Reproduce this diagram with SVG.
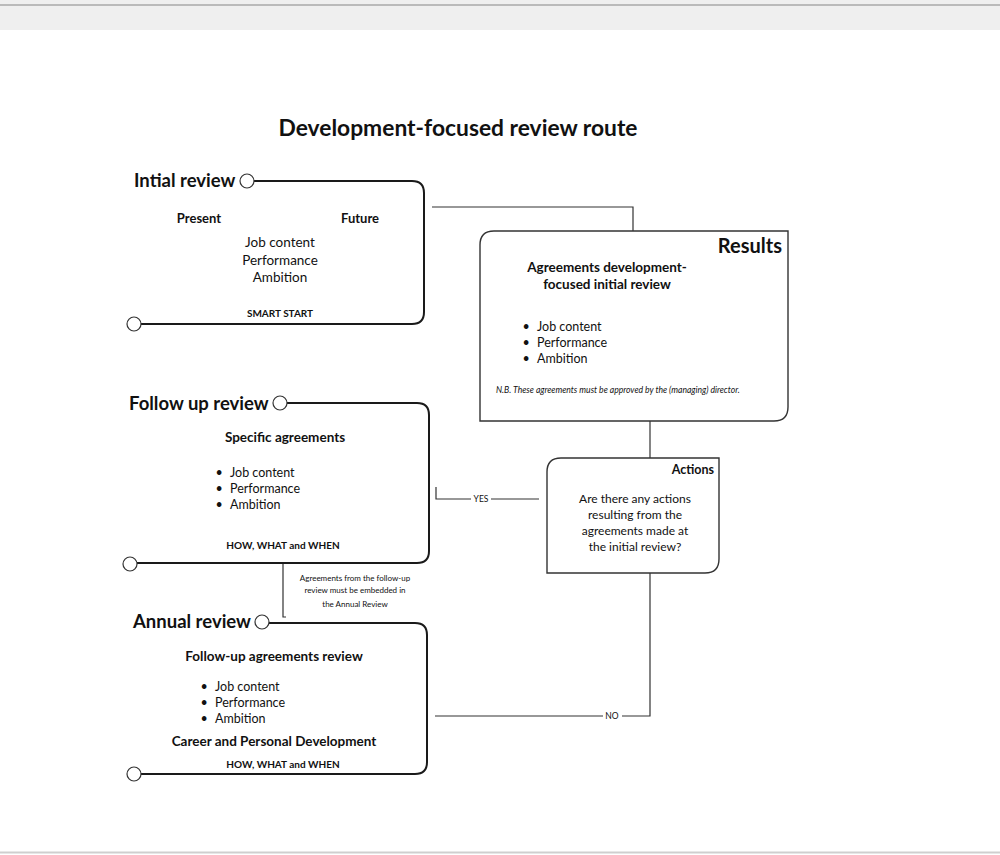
<svg xmlns="http://www.w3.org/2000/svg" width="1000" height="855" viewBox="0 0 1000 855">
<style>
text{font-family:Lato,"Open Sans","Liberation Sans",sans-serif;fill:#111}
.b{font-weight:bold}
.hd{font-size:18.5px;font-weight:bold}
.sub{font-size:13.5px;font-weight:bold}
.it{font-size:12.5px}
.sm{font-size:10px;font-weight:bold}
.tiny{font-size:8px}
.track{fill:none;stroke:#1a1a1a;stroke-width:2}
.box{fill:#fff;stroke:#333;stroke-width:1.4}
.dot{fill:#fff;stroke:#333;stroke-width:1.2}
.con{fill:none;stroke:#333;stroke-width:1.2}
.c{text-anchor:middle}
</style>
<rect x="0" y="0" width="1000" height="855" fill="#fff"/>
<rect x="0" y="0" width="1000" height="30" fill="#efefef"/>
<line x1="0" y1="5" x2="1000" y2="5" stroke="#a9a9a9" stroke-width="1.5"/>
<line x1="0" y1="852.5" x2="1000" y2="852.5" stroke="#cfcfcf" stroke-width="2"/>

<text x="458" y="136" class="c b" font-size="22.8">Development-focused review route</text>

<g id="connectors">
<polyline class="con" points="432,207 633,207 633,231"/>
<line class="con" x1="650" y1="421" x2="650" y2="458"/>
<polyline class="con" points="436,487 436,499 539,499"/>
<rect x="471" y="494" width="20" height="10" fill="#fff"/>
<text x="481" y="502" class="c" font-size="8.5">YES</text>
<polyline class="con" points="650,573 650,716 435,716"/>
<rect x="603" y="711" width="19" height="10" fill="#fff"/>
<text x="612" y="719" class="c" font-size="8.5">NO</text>
<polyline class="con" points="283,563 283,617 286,617"/>
<text x="355" y="581" class="c tiny">Agreements from the follow-up</text>
<text x="355" y="593" class="c tiny">review must be embedded in</text>
<text x="355" y="607" class="c tiny">the Annual Review</text>
</g>

<g id="initial-review">
<path class="track" d="M254,181 H412 Q424,181 424,193 V312 Q424,324 412,324 H141"/>
<circle class="dot" cx="247" cy="181" r="7"/>
<circle class="dot" cx="134" cy="324" r="7"/>
<text x="134" y="187" class="hd">Intial review</text>
<text x="199" y="223" class="c b" font-size="13">Present</text>
<text x="360" y="223" class="c b" font-size="13">Future</text>
<text x="280" y="247" class="c" font-size="13.5">Job content</text>
<text x="280" y="264.5" class="c" font-size="13.5">Performance</text>
<text x="280" y="282" class="c" font-size="13.5">Ambition</text>
<text x="280" y="317" class="c sm">SMART START</text>
</g>

<g id="results">
<path class="box" d="M494,231 H788 V407 Q788,421 774,421 H480 V245 Q480,231 494,231 Z"/>
<text x="782" y="253" class="b" font-size="20" text-anchor="end">Results</text>
<text x="607" y="272" class="c sub">Agreements development-</text>
<text x="607" y="289" class="c sub">focused initial review</text>
<text x="526" y="331" class="c it">•</text><text x="537" y="331" class="it">Job content</text>
<text x="526" y="347" class="c it">•</text><text x="537" y="347" class="it">Performance</text>
<text x="526" y="363" class="c it">•</text><text x="537" y="363" class="it">Ambition</text>
<text x="496" y="393" class="tiny" font-size="8.5" font-style="italic" style="font-size:8.6px">N.B.  These agreements must be approved by the (managing) director.</text>
</g>

<g id="actions">
<path class="box" d="M561,458 H719 V559 Q719,573 705,573 H547 V472 Q547,458 561,458 Z"/>
<text x="714" y="474" class="b" font-size="12.5" text-anchor="end">Actions</text>
<text x="635" y="503" class="c" font-size="12">Are there any actions</text>
<text x="635" y="519" class="c" font-size="12">resulting from the</text>
<text x="635" y="535" class="c" font-size="12">agreements made at</text>
<text x="635" y="551" class="c" font-size="12">the initial review?</text>
</g>

<g id="follow-up-review">
<path class="track" d="M287,403 H417 Q429,403 429,415 V551 Q429,563 417,563 H137"/>
<circle class="dot" cx="280" cy="403" r="7"/>
<circle class="dot" cx="130" cy="564" r="7"/>
<text x="129" y="410" class="hd">Follow up review</text>
<text x="285" y="442" class="c sub">Specific agreements</text>
<text x="219" y="477" class="c it">•</text><text x="230" y="477" class="it">Job content</text>
<text x="219" y="493" class="c it">•</text><text x="230" y="493" class="it">Performance</text>
<text x="219" y="509" class="c it">•</text><text x="230" y="509" class="it">Ambition</text>
<text x="283" y="549" class="c sm">HOW, WHAT and WHEN</text>
</g>

<g id="annual-review">
<path class="track" d="M269,623 H415 Q427,623 427,635 V762 Q427,774 415,774 H141"/>
<circle class="dot" cx="262" cy="622" r="7"/>
<circle class="dot" cx="134" cy="774" r="7"/>
<text x="133" y="628" class="hd">Annual review</text>
<text x="274" y="661" class="c sub">Follow-up agreements review</text>
<text x="204" y="691" class="c it">•</text><text x="215" y="691" class="it">Job content</text>
<text x="204" y="707" class="c it">•</text><text x="215" y="707" class="it">Performance</text>
<text x="204" y="723" class="c it">•</text><text x="215" y="723" class="it">Ambition</text>
<text x="274" y="746" class="c sub">Career and Personal Development</text>
<text x="283" y="768" class="c sm">HOW, WHAT and WHEN</text>
</g>
</svg>
